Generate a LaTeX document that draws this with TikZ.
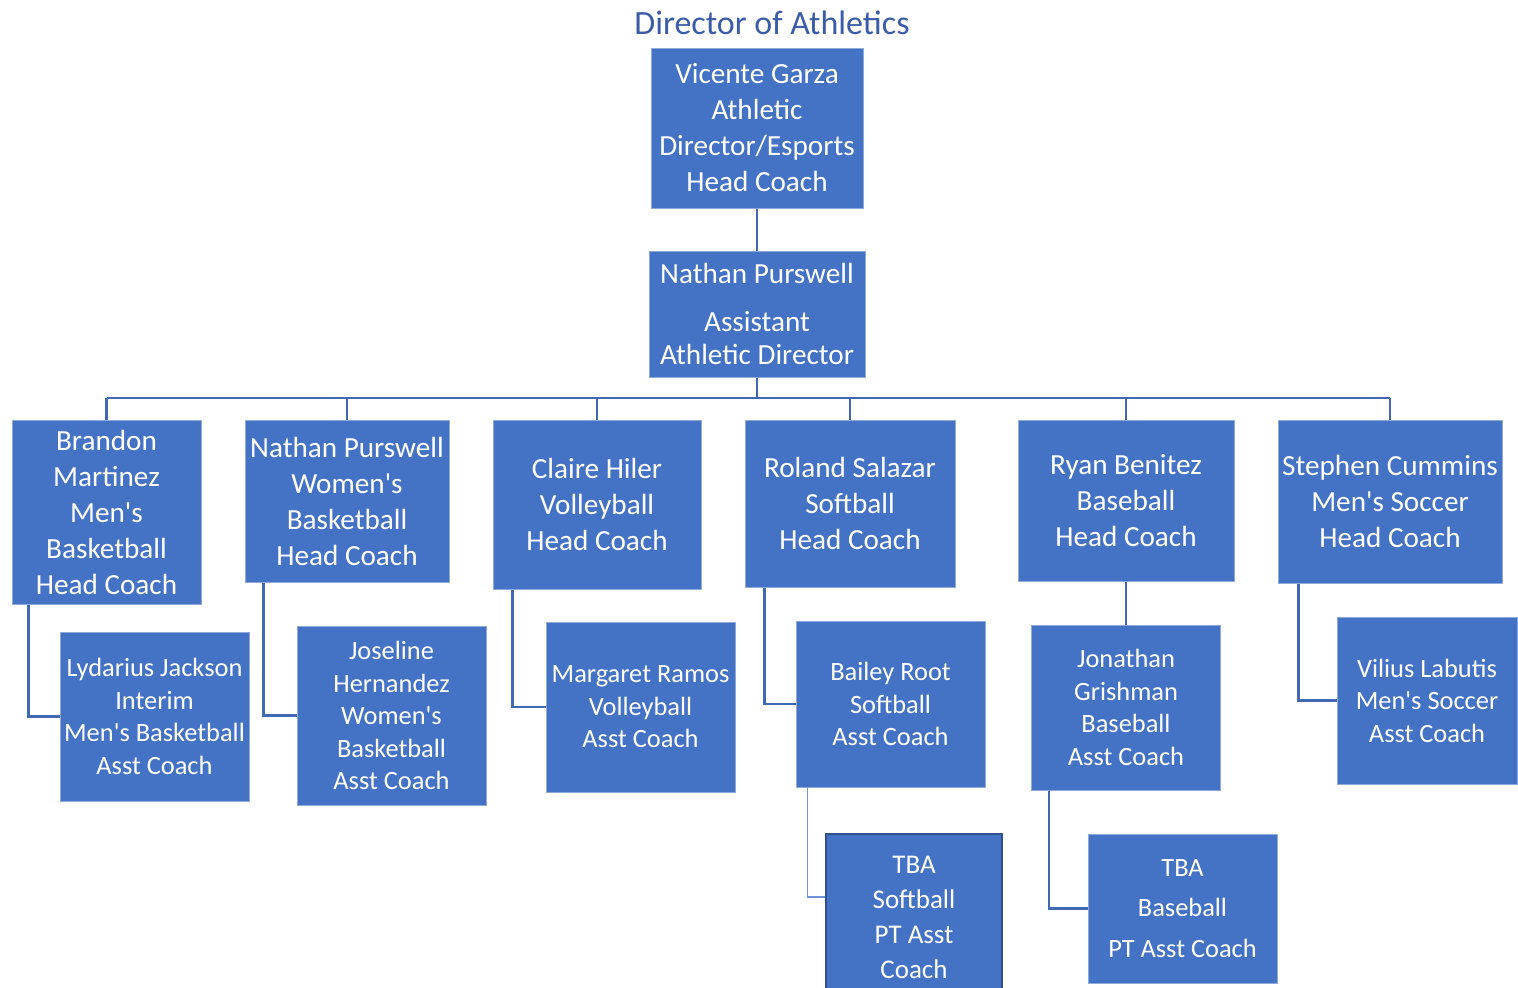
\documentclass[tikz,border=0pt]{standalone}
\usepackage{fontspec}
\setmainfont{Carlito}
\usetikzlibrary{calc}
\definecolor{boxblue}{HTML}{4472C4}
\definecolor{boxedge}{HTML}{8EAADB}
\definecolor{linkblue}{HTML}{4068B5}
\definecolor{thinlink}{HTML}{6E93D6}
\definecolor{titleblue}{HTML}{3B5CA8}
\definecolor{darkedge}{HTML}{2F528F}
\newcommand{\apos}{\textquotesingle}
\tikzset{
  box/.style={rectangle, fill=boxblue, draw=boxedge, line width=0.5pt, text=white, align=center, inner sep=0pt},
  bigtxt/.style={font=\fontsize{14.6}{18}\selectfont},
  smalltxt/.style={font=\fontsize{13.2}{16.25}\selectfont},
  link/.style={draw=linkblue, line width=1.4pt},
  thin link/.style={draw=thinlink, line width=0.8pt}
}
\begin{document}
\begin{tikzpicture}[x=0.5pt,y=-0.5pt]
\useasboundingbox (0,0) rectangle (1518,987);
\clip (0,0) rectangle (1518,987);
\fill[white] (0,0) rectangle (1518,987);

\node[text=titleblue, font=\fontsize{17}{20}\selectfont] (title) at (772,23) {Director of Athletics};

\node[box, bigtxt, minimum width=106pt, minimum height=80pt] (vic) at (757,128)
  {Vicente Garza\\Athletic\\Director/Esports\\Head Coach};
\node[box, font=\fontsize{14.6}{16.5}\selectfont, minimum width=108pt, minimum height=63pt] (adir) at (757,314)
  {Nathan Purswell\\[7.5pt]Assistant\\Athletic Director};

\node[box, bigtxt, minimum width=94.5pt, minimum height=92pt] (brandon) at (106.5,512)
  {Brandon\\Martinez\\Men\apos s\\Basketball\\Head Coach};
\node[box, bigtxt, minimum width=102pt, minimum height=81pt] (nwbb) at (347,501)
  {Nathan Purswell\\Women\apos s\\Basketball\\Head Coach};
\node[box, bigtxt, minimum width=104pt, minimum height=84.5pt] (claire) at (597,504.5)
  {Claire Hiler\\Volleyball\\Head Coach};
\node[box, bigtxt, minimum width=105pt, minimum height=83.5pt] (roland) at (850,503.5)
  {Roland Salazar\\Softball\\Head Coach};
\node[box, bigtxt, minimum width=108pt, minimum height=80.5pt] (ryan) at (1126,500.5)
  {Ryan Benitez\\Baseball\\Head Coach};
\node[box, bigtxt, minimum width=112pt, minimum height=81.5pt] (steph) at (1390,501.5)
  {Stephen Cummins\\Men\apos s Soccer\\Head Coach};

\node[box, smalltxt, minimum width=94.5pt, minimum height=84.5pt] (lyd) at (154.5,716.5)
  {Lydarius Jackson\\Interim\\Men\apos s Basketball\\Asst Coach};
\node[box, smalltxt, minimum width=94.5pt, minimum height=89.5pt] (jos) at (391.5,715.5)
  {Joseline\\Hernandez\\Women\apos s\\Basketball\\Asst Coach};
\node[box, smalltxt, minimum width=94.5pt, minimum height=85pt] (marg) at (640.5,707)
  {Margaret Ramos\\Volleyball\\Asst Coach};
\node[box, smalltxt, minimum width=94.5pt, minimum height=83pt] (bailey) at (890.5,704)
  {Bailey Root\\Softball\\Asst Coach};
\node[box, smalltxt, minimum width=94.5pt, minimum height=82.5pt] (jon) at (1126,707.5)
  {Jonathan\\Grishman\\Baseball\\Asst Coach};
\node[box, smalltxt, minimum width=90pt, minimum height=83.5pt] (vil) at (1427,700.5)
  {Vilius Labutis\\Men\apos s Soccer\\Asst Coach};

\node[box, draw=darkedge, line width=1pt, font=\fontsize{13.5}{17.5}\selectfont, minimum width=88pt, minimum height=83pt] (tbasb) at (914,917)
  {TBA\\Softball\\PT Asst\\Coach};
\node[box, font=\fontsize{13.2}{20.25}\selectfont, minimum width=94.5pt, minimum height=74.5pt] (tbabb) at (1182.5,908.5)
  {TBA\\Baseball\\PT Asst Coach};

% connectors
\coordinate (bus) at (0,398);
\draw[link] (vic.south) -- (adir.north);
\draw[link] (adir.south) -- (adir.south |- bus);
\draw[link] (brandon.north |- bus) -- (steph.north |- bus);
\foreach \n in {brandon,nwbb,claire,roland,ryan,steph}
  \draw[link] (\n.north) -- (\n.north |- bus);

\draw[link] ($(brandon.south west)+(17,0)$) |- (lyd.west);
\draw[link] ($(nwbb.south west)+(19,0)$) |- (jos.west);
\draw[link] ($(claire.south west)+(20,0)$) |- (marg.west);
\draw[link] ($(roland.south west)+(20,0)$) |- (bailey.west);
\draw[link] ($(steph.south west)+(21,0)$) |- (vil.west);
\draw[link] (ryan.south) -- (jon.north);
\draw[thin link] ($(bailey.south west)+(12,0)$) |- ($(tbasb.north west)+(0,64)$);
\draw[link] ($(jon.south west)+(18,0)$) |- (tbabb.west);
\end{tikzpicture}
\end{document}
